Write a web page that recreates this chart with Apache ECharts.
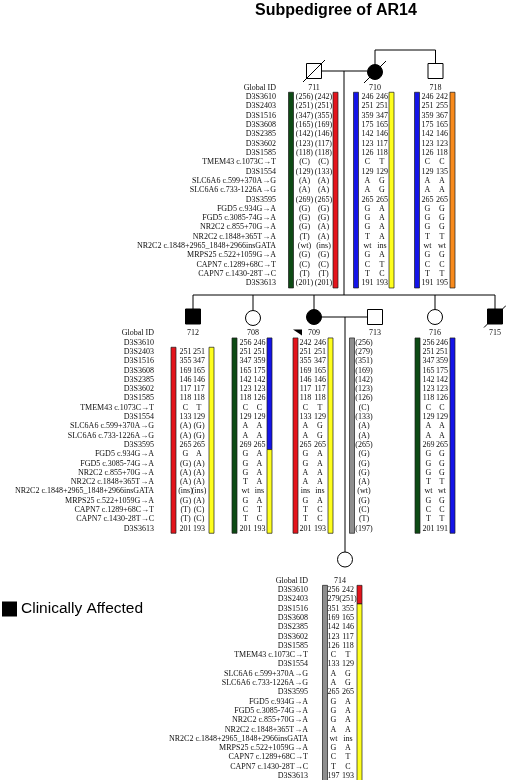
<!DOCTYPE html>
<html><head><meta charset="utf-8">
<script src="https://cdn.jsdelivr.net/npm/echarts@6/dist/echarts.min.js"></script>
<style>html,body{margin:0;padding:0;background:#fff}#c{width:506px;height:780px}</style>
</head><body><div id="c"></div>
<script>
// ---------------- DATA ----------------
const chartTitle = 'Subpedigree of AR14';
const legendLabel = 'Clinically Affected';
const headerLabel = 'Global ID';
const markers = ['D3S3610','D3S2403','D3S1516','D3S3608','D3S2385','D3S3602','D3S1585',
 'TMEM43 c.1073C→T','D3S1554','SLC6A6 c.599+370A→G','SLC6A6 c.733-1226A→G','D3S3595',
 'FGD5 c.934G→A','FGD5 c.3085-74G→A','NR2C2 c.855+70G→A','NR2C2 c.1848+365T→A',
 'NR2C2 c.1848+2965_1848+2966insGATA','MRPS25 c.522+1059G→A','CAPN7 c.1289+68C→T','CAPN7 c.1430-28T→C','D3S3613'];

const hap711a = ['(256)','(251)','(347)','(165)','(142)','(123)','(118)','(C)','(129)','(A)','(A)','(269)','(G)','(G)','(G)','(T)','(wt)','(G)','(C)','(T)','(201)'];
const hap711b = ['(242)','(251)','(355)','(169)','(146)','(117)','(118)','(C)','(133)','(A)','(A)','(265)','(G)','(G)','(A)','(A)','(ins)','(G)','(C)','(T)','(201)'];
const hap710a = ['246','251','359','175','142','123','126','C','129','A','A','265','G','G','G','T','wt','G','C','T','191'];
const hap710b = ['246','251','347','165','146','117','118','T','129','G','G','265','A','A','A','A','ins','A','T','C','193'];
const hap718a = ['246','251','359','175','142','123','126','C','129','A','A','265','G','G','G','T','wt','G','C','T','191'];
const hap718b = ['242','255','367','165','146','123','118','C','135','A','A','265','G','G','G','T','wt','G','C','T','195'];
const hap712a = ['','251','355','169','146','117','118','C','133','(A)','(A)','265','G','(G)','(A)','(A)','(ins)','(G)','(T)','(T)','201'];
const hap712b = ['','251','347','165','146','117','118','T','129','(G)','(G)','265','A','(A)','(A)','(A)','(ins)','(A)','(C)','(C)','193'];
const hap708a = ['256','251','347','165','142','123','118','C','129','A','A','269','G','G','G','T','wt','G','C','T','201'];
const hap708b = ['246','251','359','175','142','123','126','C','129','A','A','265','A','A','A','A','ins','A','T','C','193'];
const hap709a = ['242','251','355','169','146','117','118','C','133','A','A','265','G','G','A','A','ins','G','T','T','201'];
const hap709b = ['246','251','347','165','146','117','118','T','129','G','G','265','A','A','A','A','ins','A','C','C','193'];
const hap713a = ['(256)','(279)','(351)','(169)','(142)','(123)','(126)','(C)','(133)','(A)','(A)','(265)','(G)','(G)','(G)','(A)','(wt)','(G)','(C)','(T)','(197)'];
const hap716a = ['256','251','347','165','142','123','118','C','129','A','A','269','G','G','G','T','wt','G','C','T','201'];
const hap716b = ['246','251','359','175','142','123','126','C','129','A','A','265','G','G','G','T','wt','G','C','T','191'];
const hap714a = ['256','279','351','169','142','123','126','C','133','A','A','265','G','G','G','A','wt','G','C','T','197'];
const hap714b = ['242','(251)','355','165','146','117','118','T','129','G','G','265','A','A','A','A','ins','A','T','C','193'];

// haplotype segments: [haplotype, firstRow, lastRow]
const seg711a = [['H1',1,21]], seg711b = [['H2',1,21]];
const seg710a = [['H3',1,21]], seg710b = [['H4',1,21]];
const seg718a = [['H3',1,21]], seg718b = [['H5',1,21]];
const seg712a = [['H2',2,21]], seg712b = [['H4',2,21]];
const seg708a = [['H1',1,21]], seg708b = [['H3',1,12],['H4',13,21]];
const seg709a = [['H2',1,21]], seg709b = [['H4',1,21]];
const seg713a = [['H6',1,21]];
const seg716a = [['H1',1,21]], seg716b = [['H3',1,21]];
const seg714a = [['H6',1,21]], seg714b = [['H2',1,2],['H4',3,21]];

const affected = ['710','712','709','715'];
const deceased = ['711','710','715'];
const sexOf = {'711':'M','710':'F','718':'M','712':'M','708':'F','709':'F','713':'M','716':'F','715':'M','714':'F'};
const proband = '709';

// ---------------- STYLE / LAYOUT ----------------
const HAP_COLORS = {H1:'#0d4a14',H2:'#e3141c',H3:'#1414e8',H4:'#ffff1e',H5:'#f88a1c',H6:'#8e8e8e'};
const TXT = '#0d0d0d';
const FONT = '"Liberation Serif","Times New Roman",serif';
const BAR_W = 5;
const SYM = 15;
const pos = {'711':[314,71],'710':[375,72],'718':[435.5,71],
  '712':[193,316.5],'708':[253,318],'709':[314,317],'713':[375,317],'716':[435,317],'715':[495,316.5],
  '714':[345,559.5]};
const sibY = 295, topJoinY = 50;
const tables = [
  {labelRight:276, row0:87.6, step:9.32, people:[
    {id:'711', cols:[[304.5,hap711a],[323.5,hap711b]], bars:[[291,seg711a],[335.5,seg711b]]},
    {id:'710', cols:[[367.5,hap710a],[382,hap710b]], bars:[[356,seg710a],[391.5,seg710b]]},
    {id:'718', cols:[[427.5,hap718a],[442,hap718b]], bars:[[417,seg718a],[452.5,seg718b]]}]},
  {labelRight:154, row0:333.3, step:9.3, people:[
    {id:'712', cols:[[185.5,hap712a],[199,hap712b]], bars:[[173.5,seg712a],[211.5,seg712b]]},
    {id:'708', cols:[[245.5,hap708a],[259.5,hap708b]], bars:[[234.5,seg708a],[269.5,seg708b]]},
    {id:'709', cols:[[305.5,hap709a],[320,hap709b]], bars:[[295.5,seg709a],[330.5,seg709b]]},
    {id:'713', cols:[[364,hap713a]], bars:[[352,seg713a]]},
    {id:'716', cols:[[428.5,hap716a],[442,hap716b]], bars:[[417.5,seg716a],[452.5,seg716b]]},
    {id:'715', cols:[], bars:[]}]},
  {labelRight:308, row0:580.7, step:9.3, people:[
    {id:'714', idX:340, cols:[[333.5,hap714a],[348,hap714b]], bars:[[325,seg714a],[359.5,seg714b]]}]}
];

// ---------------- BUILD ----------------
const grids = [], xAxes = [], yAxes = [], series = [];
tables.forEach((t, gi) => {
  const left = t.labelRight + 4;
  grids.push({left: left, right: 0, top: t.row0 - t.step/2, height: t.step*22, outerBoundsMode:'none', containLabel:false});
  xAxes.push({type:'value', gridIndex:gi, min:left, max:506, show:false});
  yAxes.push({type:'category', gridIndex:gi, inverse:true, data:[headerLabel].concat(markers),
    axisLine:{show:false}, axisTick:{show:false}, splitLine:{show:false},
    axisLabel:{interval:0, margin:4, fontSize:8, fontFamily:FONT, color:TXT}});
  const items = [];
  const runs = [];
  t.people.forEach(p => {
    items.push({x: p.idX !== undefined ? p.idX : pos[p.id][0], row:0, text:p.id});
    p.cols.forEach(([cx, hap]) => hap.forEach((v, i) => { if (v) items.push({x:cx, row:i+1, text:v}); }));
    p.bars.forEach(([bx, segs]) => segs.forEach(s => runs.push({x:bx, h:s[0], r1:s[1], r2:s[2]})));
  });
  series.push({type:'custom', xAxisIndex:gi, yAxisIndex:gi, silent:true, clip:false, z:3,
    data: runs.map(r => [r.x, r.r1, r.r2]),
    renderItem: (params, api) => {
      const r = runs[params.dataIndex];
      const p1 = api.coord([r.x, r.r1]), p2 = api.coord([r.x, r.r2]);
      const band = api.size([0,1])[1];
      return {type:'rect', shape:{x:p1[0]-BAR_W/2, y:p1[1]-band/2, width:BAR_W, height:p2[1]-p1[1]+band},
        style:{fill:HAP_COLORS[r.h], stroke:'#1a1a1a', lineWidth:0.7}};
    }});
  series.push({type:'custom', xAxisIndex:gi, yAxisIndex:gi, silent:true, clip:false, z:4,
    data: items.map(d => [d.x, d.row]),
    renderItem: (params, api) => {
      const d = items[params.dataIndex];
      const p = api.coord([d.x, d.row]);
      return {type:'text', x:p[0], y:p[1], style:{text:d.text, fill:TXT, font:'8px '+FONT,
        align:'center', verticalAlign:'middle', textAlign:'center', textVerticalAlign:'middle'}};
    }});
});

// pedigree overlay grid (pixel-space)
const PG = grids.length;
grids.push({left:0, right:0, top:0, bottom:0, outerBoundsMode:'none', containLabel:false});
xAxes.push({type:'value', gridIndex:PG, min:0, max:506, show:false});
yAxes.push({type:'value', gridIndex:PG, min:0, max:780, inverse:true, show:false});

const h = SYM/2;
const P = id => pos[id];
const lines = [
  [[P('711')[0]+h, P('711')[1]], [P('710')[0]-h, P('711')[1]]],
  [[344, P('711')[1]], [344, sibY]],
  [[P('710')[0], P('710')[1]-h], [P('710')[0], topJoinY], [P('718')[0], topJoinY], [P('718')[0], P('718')[1]-h]],
  [[P('712')[0], sibY], [P('715')[0], sibY]],
  [[P('709')[0]+h, P('709')[1]], [P('713')[0]-h, P('709')[1]]],
  [[P('714')[0], P('709')[1]], [P('714')[0], P('714')[1]-h]]
];
['712','708','709','716','715'].forEach(id => lines.push([[P(id)[0], sibY], [P(id)[0], P(id)[1]-h]]));

series.push({type:'custom', xAxisIndex:PG, yAxisIndex:PG, silent:true, clip:false, z:2,
  data: lines.map(l => l[0]),
  renderItem: (params, api) => {
    const pts = lines[params.dataIndex].map(pt => api.coord(pt));
    return {type:'polyline', shape:{points:pts}, style:{stroke:'#000', lineWidth:1, fill:null}};
  }});

const unaffected = Object.keys(pos).filter(id => !affected.includes(id));
const symData = ids => ids.map(id => ({value:P(id), symbol: sexOf[id]==='M' ? 'rect' : 'circle'}));
series.push({type:'scatter', name:'Unaffected', xAxisIndex:PG, yAxisIndex:PG, silent:true, z:5,
  symbolSize:SYM, data:symData(unaffected), itemStyle:{color:'#fff', borderColor:'#000', borderWidth:1, opacity:1}});
series.push({type:'scatter', name:legendLabel, xAxisIndex:PG, yAxisIndex:PG, silent:true, z:5,
  symbolSize:SYM, data:symData(affected), itemStyle:{color:'#000', borderColor:'#000', borderWidth:1, opacity:1}});
// slashes on top of symbols (deceased)
series.push({type:'custom', xAxisIndex:PG, yAxisIndex:PG, silent:true, clip:false, z:6,
  data: deceased.map(id => P(id)),
  renderItem: (params, api) => {
    const c = P(deceased[params.dataIndex]);
    const a = api.coord([c[0]-11, c[1]+11]), b = api.coord([c[0]+11, c[1]-11]);
    return {type:'line', shape:{x1:a[0], y1:a[1], x2:b[0], y2:b[1]}, style:{stroke:'#000', lineWidth:1}};
  }});
// proband arrow
series.push({type:'custom', xAxisIndex:PG, yAxisIndex:PG, silent:true, clip:false, z:6,
  data: [P(proband)],
  renderItem: (params, api) => {
    const c = P(proband);
    const pts = [[c[0]-21, c[1]+12.5], [c[0]-12, c[1]+12.5], [c[0]-12, c[1]+18.5]].map(pt => api.coord(pt));
    return {type:'polygon', shape:{points:pts}, style:{fill:'#000'}};
  }});

const chart = echarts.init(document.getElementById('c'), null, {renderer:'canvas'});
chart.setOption({
  animation:false,
  backgroundColor:'#fff',
  title:{text:chartTitle, left:255, top:3, padding:0,
    textStyle:{fontFamily:'"Liberation Sans",Arial,sans-serif', fontWeight:'bold', fontSize:16, color:'#000'}},
  legend:{data:[legendLabel], left:2, top:601, padding:0, icon:'rect', itemWidth:13, itemHeight:13, itemGap:6,
    selectedMode:false, textStyle:{fontFamily:'"Liberation Sans",Arial,sans-serif', fontSize:15.5, color:'#000'}},
  grid:grids, xAxis:xAxes, yAxis:yAxes, series:series
});
</script></body></html>
